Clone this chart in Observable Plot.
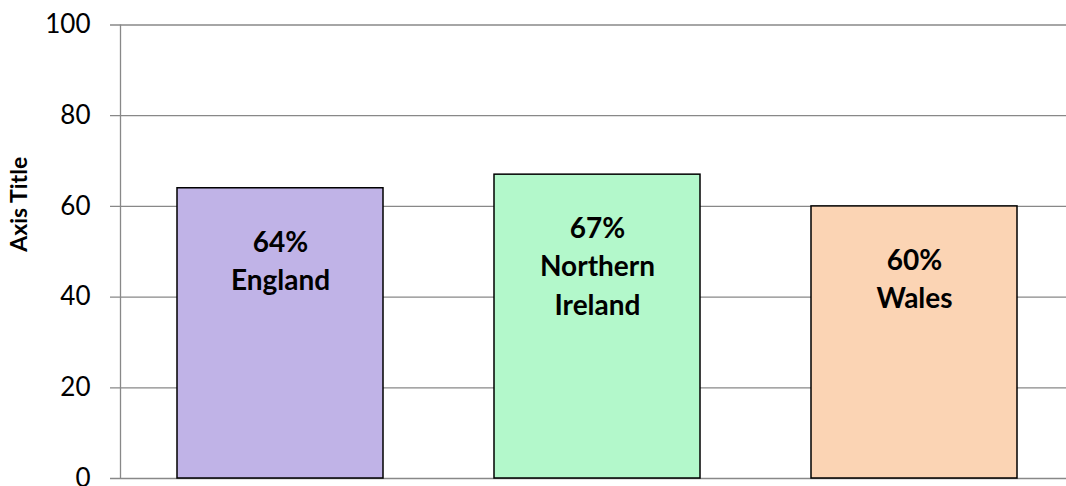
<!DOCTYPE html>
<html><head><meta charset="utf-8">
<script src="https://cdn.jsdelivr.net/npm/d3@7"></script>
<script src="https://cdn.jsdelivr.net/npm/@observablehq/plot@0.6"></script>
<style>html,body{margin:0;padding:0;background:#fff;overflow:hidden} svg{display:block}</style>
</head><body><div id="chart"></div>
<script>
const regions = ["England", "Northern Ireland", "Wales"];
const shares = [64, 67, 60];
const labelLines = ["64%\nEngland", "67%\nNorthern\nIreland", "60%\nWales"];
const barColors = ["#c0b3e7", "#b3f8cb", "#fbd4b4"];
const yTicks = [0, 20, 40, 60, 80, 100];
const yTitle = "Axis Title";

const data = regions.map((r, i) => ({region: r, value: shares[i], label: labelLines[i], color: barColors[i]}));

const axisLine = (index, scales, values, dim) => {
  const g = d3.create("svg:g");
  g.append("line")
    .attr("x1", dim.marginLeft + 0.5).attr("x2", dim.marginLeft + 0.5)
    .attr("y1", scales.y(100)).attr("y2", scales.y(0))
    .attr("stroke", "#888").attr("stroke-width", 1.3);
  return g.node();
};

const chart = Plot.plot({
  width: 1066, height: 486,
  marginLeft: 120, marginRight: 0, marginTop: 24.5, marginBottom: 8,
  style: {fontFamily: "Lato, sans-serif", background: "#fff"},
  x: {domain: regions, range: [121, 1074], paddingInner: 0.35, paddingOuter: 0.175, align: 0.5, axis: null},
  y: {domain: [0, 100], axis: null},
  marks: [
    Plot.gridY(yTicks, {stroke: "#888", strokeOpacity: 1, strokeWidth: 1.3, insetLeft: -10}),
    Plot.axisY(yTicks, {tickSize: 0, tickPadding: 30, fontSize: 26, fill: "#000", label: null}),
    axisLine,
    Plot.barY(data, {x: "region", y: "value", fill: "color", stroke: "#000", strokeWidth: 1.5}),
    Plot.text(data, {x: "region", y: "value", text: "label", lineAnchor: "top", dy: 36,
      fontSize: 28, fontWeight: "bold", lineHeight: 1.37, fill: "#000"}),
    Plot.text([yTitle], {frameAnchor: "left", dx: -101, rotate: -90, text: d => d,
      fontSize: 23, fontWeight: "bold", fill: "#000"})
  ]
});
document.getElementById("chart").append(chart);
</script>
</body></html>
